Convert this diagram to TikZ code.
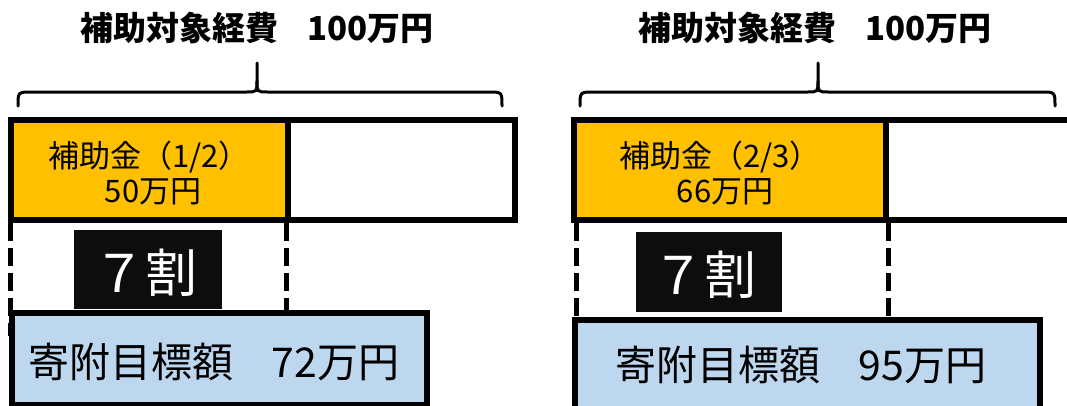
\documentclass[tikz,border=0pt]{standalone}
\usepackage{fontspec}
\newfontfamily\cjk{Noto Sans CJK JP}
\newfontfamily\cjkbold{Noto Sans CJK JP Black}
\definecolor{gold}{HTML}{FFC000}
\definecolor{lblue}{HTML}{BDD7EE}
\begin{document}
\begin{tikzpicture}[x=1pt,y=-1pt,
  frame/.style={draw=black, line width=6pt, outer sep=0pt, inner sep=0pt},
  blackbox/.style={fill=black!95, draw=none, outer sep=0pt, inner sep=0pt},
  dashline/.style={draw=black, line width=5pt, dash pattern=on 18pt off 7pt},
  bracepath/.style={draw=black, line width=3pt, line cap=round},
  titletext/.style={font=\cjkbold\fontsize{33}{36}\selectfont, inner sep=0pt},
  subtext/.style={font=\cjk\fontsize{31}{34}\selectfont, inner sep=0pt},
  seventext/.style={font=\cjk\fontsize{52}{56}\selectfont, text=white, inner sep=0pt},
  goaltext/.style={font=\cjk\fontsize{41}{44}\selectfont, inner sep=0pt}]
\clip (0,0) rectangle (1067,405);
\fill[white] (0,0) rectangle (1067,405);

% ---------- left panel ----------
\node[titletext] (titleL) at (257,28) {補助対象経費\hspace{-4pt}　100万円};
\coordinate (bL1) at (18,106);
\coordinate (bLtip) at (257,63);
\coordinate (bL2) at (502,106);
\draw[bracepath] (bL1) .. controls (18,92) .. (32,92) -- (246,92) .. controls (257,92) .. (257,81) -- (bLtip);
\draw[bracepath] (257,81) .. controls (257,92) .. (268,92) -- (488,92) .. controls (502,92) .. (bL2);

\coordinate (dLa1) at (10,223); \coordinate (dLa2) at (10,336);
\coordinate (dLb1) at (286,223); \coordinate (dLb2) at (286,310);
\draw[dashline] (dLa1) -- (dLa2);
\draw[dashline] (dLb1) -- (dLb2);

\node[frame, minimum width=227pt, minimum height=100pt] (restL) at (401.5,170) {};
\node[frame, fill=gold, minimum width=277pt, minimum height=100pt] (subL) at (149.5,170) {};
\node[subtext] (subL1) at (149,157) {補助金（1/2）};
\node[subtext] (subL2) at (153,192) {50万円};

\node[blackbox, minimum width=148pt, minimum height=79pt] (sevL) at (148,269.5) {};
\node[seventext] (sevLt) at (145,273) {７割};

\node[frame, fill=lblue, minimum width=415pt, minimum height=92pt] (goalL) at (219.5,359) {};
\node[goaltext] (goalLt) at (214,362) {寄附目標額\hspace{-3pt}　72万円};

% ---------- right panel ----------
\node[titletext] (titleR) at (815,28) {補助対象経費\hspace{-4pt}　100万円};
\coordinate (bR1) at (580,106);
\coordinate (bRtip) at (818,63);
\coordinate (bR2) at (1055,106);
\draw[bracepath] (bR1) .. controls (580,92) .. (594,92) -- (807,92) .. controls (818,92) .. (818,81) -- (bRtip);
\draw[bracepath] (818,81) .. controls (818,92) .. (829,92) -- (1041,92) .. controls (1055,92) .. (bR2);

\coordinate (dRa1) at (576,223); \coordinate (dRa2) at (576,320);
\coordinate (dRb1) at (888,223); \coordinate (dRb2) at (888,317);
\draw[dashline] (dRa1) -- (dRa2);
\draw[dashline] (dRb1) -- (dRb2);

\node[frame, minimum width=200pt, minimum height=100pt] (restR) at (986,170) {};
\node[frame, fill=gold, minimum width=312pt, minimum height=100pt] (subR) at (730,170) {};
\node[subtext] (subR1) at (720,157) {補助金（2/3）};
\node[subtext] (subR2) at (725,192) {66万円};

\node[blackbox, minimum width=146pt, minimum height=80pt] (sevR) at (709,272) {};
\node[seventext] (sevRt) at (704,275) {７割};

\node[frame, fill=lblue, minimum width=465pt, minimum height=90pt] (goalR) at (807.5,365) {};
\node[goaltext] (goalRt) at (801,365) {寄附目標額\hspace{-3pt}　95万円};
\end{tikzpicture}
\end{document}
